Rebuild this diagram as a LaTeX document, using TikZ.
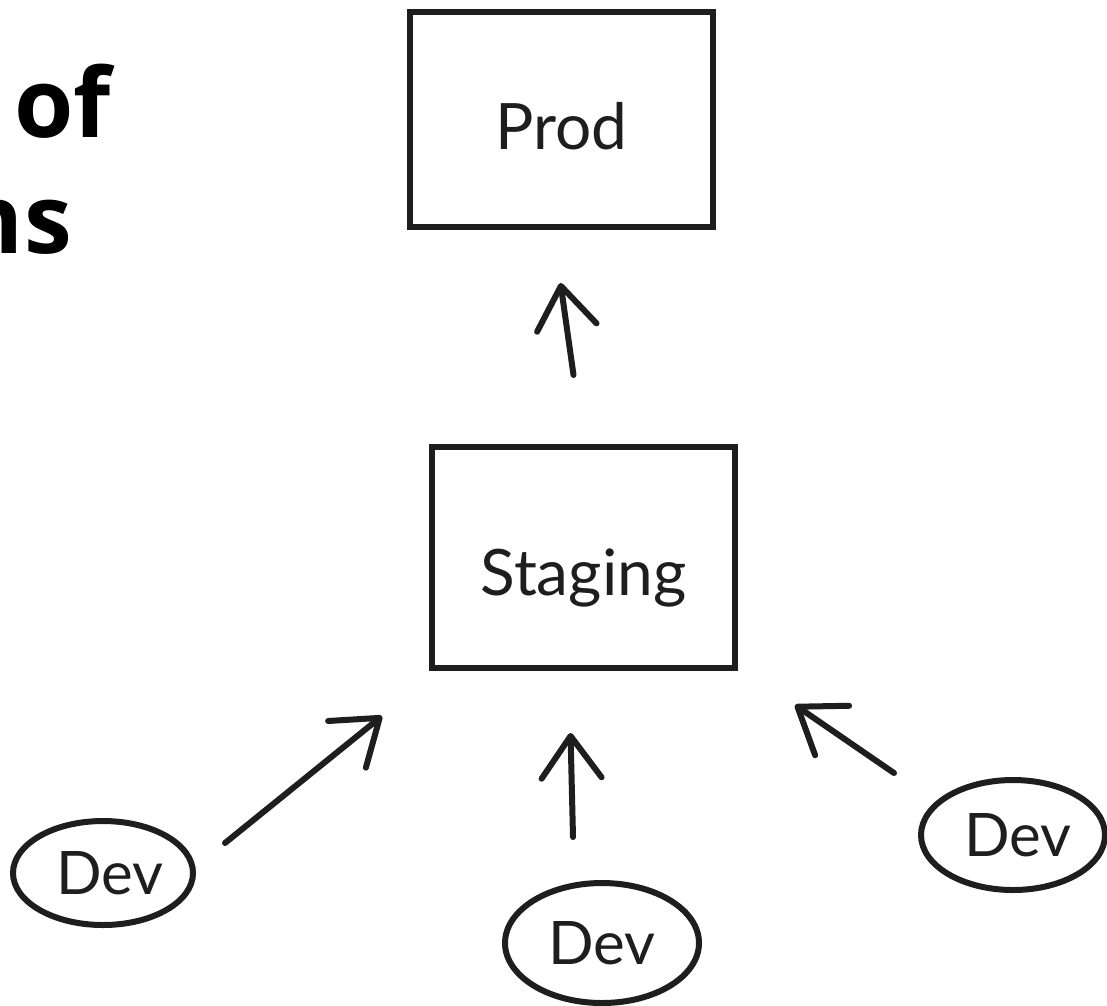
\documentclass[tikz,border=0pt]{standalone}
\usepackage{fontspec}
\setmainfont{Lato}
\newfontfamily\titlefont{Open Sans}
\usetikzlibrary{arrows.meta,shapes.geometric}
\definecolor{inkc}{HTML}{1E1E1E}
\begin{document}
\begin{tikzpicture}[x=1pt,y=1pt,
  ink/.style={draw=inkc, line width=6pt},
  boxnode/.style={ink, rectangle, text=inkc, font=\fontsize{64}{70}\selectfont},
  devnode/.style={ink, ellipse, inner sep=0pt, text=inkc, font=\fontsize{60}{66}\selectfont},
  arr/.style={draw=inkc, line width=6pt, line cap=round,
    -{Straight Barb[length=42pt,width=60pt,round]}},
  title/.style={inner sep=0pt, font=\titlefont\bfseries\fontsize{96}{115}\selectfont}
]
\useasboundingbox (0,0) rectangle (1107,-1005);
\fill[white] (0,0) rectangle (1107,-1005);

% title fragment (cut off at the left edge, as in the reference)
\begin{scope}
  \clip (0,0) rectangle (1107,-1005);
  \node[title, anchor=base west] (t1) at (14,-137) {of};
  \node[title, anchor=base east] (t2) at (72,-253) {ns};
\end{scope}

% boxes
\node[boxnode, minimum width=303pt, minimum height=215pt] (prod) at (561.5,-119.5) {\raisebox{-30pt}[0pt][0pt]{Prod}};
\node[boxnode, minimum width=303pt, minimum height=221pt] (staging) at (583.5,-557.5) {\raisebox{-38pt}[0pt][0pt]{Staging}};

% dev ellipses
\node[devnode, minimum width=180pt, minimum height=104pt] (dev1) at (103,-873) {\hspace*{14pt}Dev};
\node[devnode, minimum width=194pt, minimum height=120pt] (dev2) at (602,-943) {Dev};
\node[devnode, minimum width=184pt, minimum height=110pt] (dev3) at (1013,-835) {\hspace*{10pt}Dev};

% arrows
\draw[arr] ([shift={(-10,69)}]staging.north) -- ([shift={(-1,-53)}]prod.south);
\draw[arr] ([shift={(29,30)}]dev1.east) -- ([shift={(-47,-45)}]staging.south west);
\draw[arr] ([shift={(-29,43)}]dev2.north) -- ([shift={(-13,-62)}]staging.south);
\draw[arr] ([shift={(-24,62)}]dev3.west) -- ([shift={(57,-34)}]staging.south east);
\end{tikzpicture}
\end{document}
